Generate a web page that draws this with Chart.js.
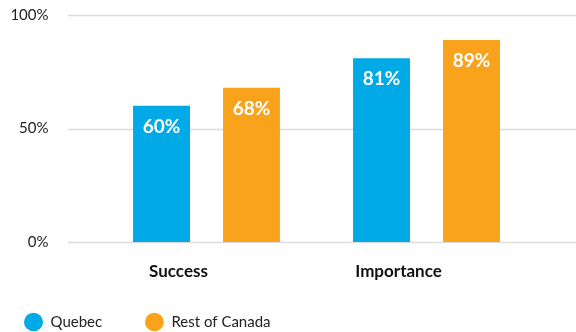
<!DOCTYPE html>
<html>
<head>
<meta charset="utf-8">
<script src="https://cdn.jsdelivr.net/npm/chart.js@4"></script>
<style>
  html, body { margin: 0; padding: 0; background: #fff; }
</style>
</head>
<body>
<canvas id="myChart"></canvas>
<script>
'use strict';
// chart data
let categories = ['Success', 'Importance'];
let quebecValues = [60, 81];
let restOfCanadaValues = [68, 89];
let seriesNames = ['Quebec', 'Rest of Canada'];
let yTicks = [0, 50, 100];

let blue = '#00aae6';
let orange = '#f9a31d';

// horizontal grid lines that run wider than the bar area
let gridPlugin = {
  id: 'wideGrid',
  beforeDatasetsDraw(chart) {
    let ctx = chart.ctx;
    let yScale = chart.scales.y;
    ctx.save();
    ctx.strokeStyle = '#dcdcdc';
    ctx.lineWidth = 1.5;
    for (let i = 0; i < yTicks.length; i++) {
      let y = Math.round(yScale.getPixelForValue(yTicks[i])) + 0.5;
      ctx.beginPath();
      ctx.moveTo(68, y);
      ctx.lineTo(chart.width, y);
      ctx.stroke();
    }
    ctx.restore();
  }
};

// white value labels near the top of each bar
let valuePlugin = {
  id: 'barValues',
  afterDatasetsDraw(chart) {
    let ctx = chart.ctx;
    ctx.save();
    ctx.fillStyle = '#fff';
    ctx.font = 'bold 19px Lato';
    ctx.textAlign = 'center';
    ctx.textBaseline = 'middle';
    chart.data.datasets.forEach((ds, i) => {
      chart.getDatasetMeta(i).data.forEach((bar, j) => {
        ctx.fillText(ds.data[j] + '%', bar.x, bar.y + 21);
      });
    });
    ctx.restore();
  }
};

let chartObject = {
  type: 'bar',
  data: {
    labels: categories,
    datasets: [{
      label: seriesNames[0],
      data: quebecValues,
      backgroundColor: blue
    },
    {
      label: seriesNames[1],
      data: restOfCanadaValues,
      backgroundColor: orange
    }]
  },
  options: {
    responsive: false,
    animation: false,
    layout: {
      padding: { top: 15, right: 39.5, left: 0, bottom: -7.5 }
    },
    datasets: {
      bar: {
        categoryPercentage: 0.818,
        barPercentage: 0.633
      }
    },
    scales: {
      x: {
        grid: { display: false, drawTicks: false },
        border: { display: false },
        afterFit(scale) {
          scale.height = 48.5;
        },
        ticks: {
          color: '#111',
          font: { family: 'Lato', size: 17, weight: 'bold' },
          padding: 19,
          maxRotation: 0,
          labelOffset: -28
        }
      },
      y: {
        min: 0,
        max: 100,
        afterBuildTicks(scale) {
          scale.ticks = yTicks.map(v => ({ value: v }));
        },
        afterFit(scale) {
          // fixed axis width; drop the vertical padding that ticks.padding adds
          scale.width = 96.5;
          scale.paddingTop = 0;
          scale.paddingBottom = 0;
        },
        grid: { display: false, drawTicks: false },
        border: { display: false },
        ticks: {
          color: '#222',
          font: { family: 'Lato', size: 15 },
          padding: 48,
          callback: v => v + '%'
        }
      }
    },
    plugins: {
      tooltip: { enabled: false },
      legend: {
        position: 'bottom',
        align: 'start',
        labels: {
          usePointStyle: true,
          pointStyle: 'circle',
          boxHeight: 13,
          pointStyleWidth: 19,
          padding: 24,
          color: '#222',
          font: { family: 'Lato', size: 15 },
          generateLabels(chart) {
            let items = Chart.defaults.plugins.legend.labels.generateLabels(chart);
            items.forEach(item => { item.lineWidth = 0; });
            items[0].text = items[0].text + '\u2003\u2002';
            return items;
          }
        }
      }
    }
  },
  plugins: [gridPlugin, valuePlugin]
};

let canvas = document.getElementById('myChart');
canvas.width = 576;
canvas.height = 332;
let myChart = new Chart(canvas.getContext('2d'), chartObject);
</script>
</body>
</html>
